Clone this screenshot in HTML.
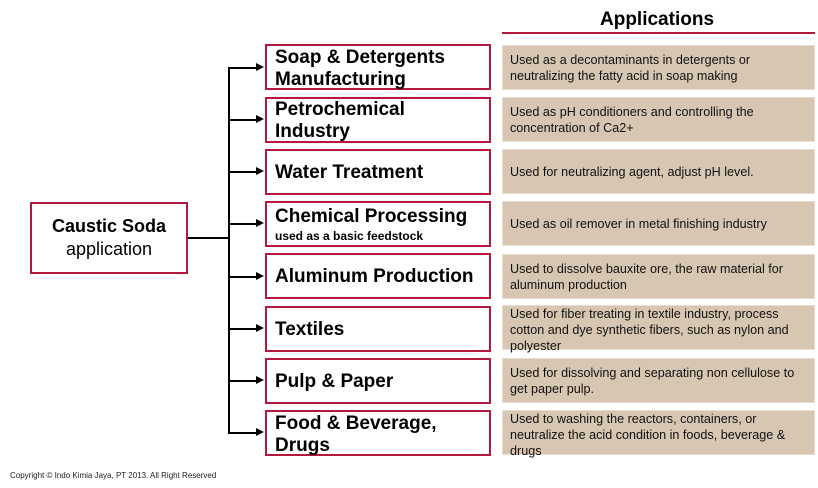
<!DOCTYPE html>
<html><head><meta charset="utf-8"><style>
body{margin:0;width:818px;height:488px;background:#fff;position:relative;font-family:"Liberation Sans",Arial,sans-serif;overflow:hidden}
.b{position:absolute;left:265px;width:222px;height:42px;border:2px solid #b5173f;box-sizing:content-box;font-weight:bold;font-size:19px;line-height:22px;color:#000}
.b span{position:absolute;left:8px}
.t{position:absolute;left:502px;width:313px;height:45px;box-sizing:border-box;background:#d7c7b2;border:1px solid #e8ddd0;font-size:12.6px;line-height:16px;padding:4px 4px 0 7px;color:#111}
.l{position:absolute;background:#000}
.a{position:absolute;left:256px;width:0;height:0;border-left:8px solid #000;border-top:4px solid transparent;border-bottom:4px solid transparent}
</style></head><body>
<div style="position:absolute;left:600px;top:9px;font-size:19px;font-weight:bold">Applications</div>
<div class="l" style="left:502px;top:32px;width:313px;height:2px;background:#b5173f"></div>
<div style="position:absolute;left:30px;top:202px;width:154px;height:68px;border:2px solid #b5173f;text-align:center;font-size:18px;line-height:23px"><div style="margin-top:11px"><b>Caustic Soda</b><br>application</div></div>
<div class="l" style="left:188px;top:237px;width:40px;height:1.5px"></div>
<div class="l" style="left:228px;top:67px;width:1.5px;height:366px"></div>

<div class="l" style="left:228px;top:67px;width:30px;height:1.5px"></div><div class="a" style="top:63px"></div>
<div class="b" style="top:44px"><span style="top:1px">Soap &amp; Detergents<br>Manufacturing</span></div>
<div class="t" style="top:45px;padding-top:6px">Used as a decontaminants in detergents or<br>neutralizing the fatty acid in soap making</div>

<div class="l" style="left:228px;top:119px;width:30px;height:1.5px"></div><div class="a" style="top:115px"></div>
<div class="b" style="top:97px"><span style="top:0px">Petrochemical<br>Industry</span></div>
<div class="t" style="top:97px;padding-top:6px">Used as pH conditioners and controlling the<br>concentration of Ca2+</div>

<div class="l" style="left:228px;top:171px;width:30px;height:1.5px"></div><div class="a" style="top:167px"></div>
<div class="b" style="top:149px"><span style="top:11px">Water Treatment</span></div>
<div class="t" style="top:149px;padding-top:14px">Used for neutralizing agent, adjust pH level.</div>

<div class="l" style="left:228px;top:223px;width:30px;height:1.5px"></div><div class="a" style="top:219px"></div>
<div class="b" style="top:201px"><span style="top:3px">Chemical Processing<br><span style="position:static;font-size:12px;line-height:16px;display:block">used as a basic feedstock</span></span></div>
<div class="t" style="top:201px;padding-top:14px">Used as oil remover in metal finishing industry</div>

<div class="l" style="left:228px;top:276px;width:30px;height:1.5px"></div><div class="a" style="top:272px"></div>
<div class="b" style="top:253px"><span style="top:11px">Aluminum Production</span></div>
<div class="t" style="top:254px;padding-top:6px">Used to dissolve bauxite ore, the raw material for<br>aluminum production</div>

<div class="l" style="left:228px;top:328px;width:30px;height:1.5px"></div><div class="a" style="top:324px"></div>
<div class="b" style="top:306px"><span style="top:11px">Textiles</span></div>
<div class="t" style="top:305px;padding-top:0px">Used for fiber treating in textile industry, process<br>cotton and dye synthetic fibers, such as nylon and<br>polyester</div>

<div class="l" style="left:228px;top:380px;width:30px;height:1.5px"></div><div class="a" style="top:376px"></div>
<div class="b" style="top:358px"><span style="top:11px">Pulp &amp; Paper</span></div>
<div class="t" style="top:358px;padding-top:6px">Used for dissolving and separating non cellulose to<br>get paper pulp.</div>

<div class="l" style="left:228px;top:432px;width:30px;height:1.5px"></div><div class="a" style="top:428px"></div>
<div class="b" style="top:410px"><span style="top:1px">Food &amp; Beverage,<br>Drugs</span></div>
<div class="t" style="top:410px;padding-top:0px">Used to washing the reactors, containers, or<br>neutralize the acid condition in foods, beverage &amp;<br>drugs</div>

<div style="position:absolute;left:10px;top:471px;font-size:8px;color:#222">Copyright © Indo Kimia Jaya, PT 2013. All Right Reserved</div>
</body></html>
